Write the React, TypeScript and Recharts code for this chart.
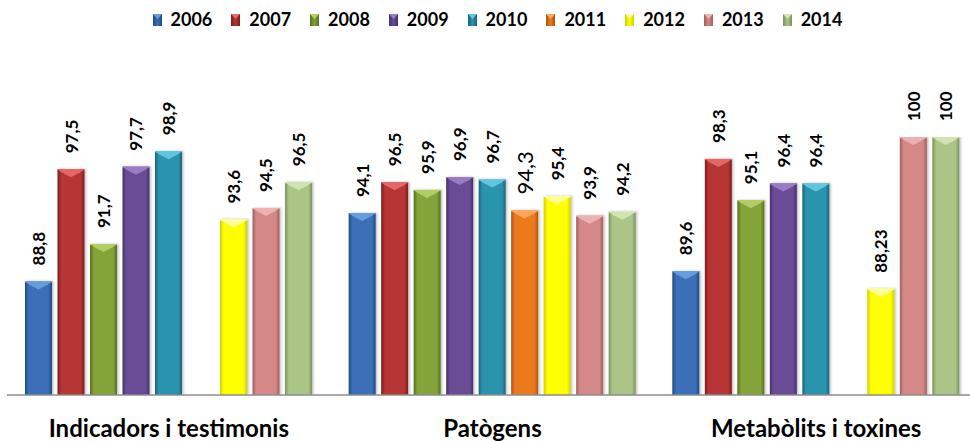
import React from 'react';
import { BarChart, Bar, XAxis, YAxis, Legend, LabelList } from 'recharts';

const categories = ['Indicadors i testimonis', 'Patògens', 'Metabòlits i toxines'];
const years = ['2006', '2007', '2008', '2009', '2010', '2011', '2012', '2013', '2014'];
const v2006 = [88.8, 94.1, 89.6];
const v2007 = [97.5, 96.5, 98.3];
const v2008 = [91.7, 95.9, 95.1];
const v2009 = [97.7, 96.9, 96.4];
const v2010 = [98.9, 96.7, 96.4];
const v2011 = [null, 94.3, null];
const v2012 = [93.6, 95.4, 88.23];
const v2013 = [94.5, 93.9, 100];
const v2014 = [96.5, 94.2, 100];
const series = [v2006, v2007, v2008, v2009, v2010, v2011, v2012, v2013, v2014];

const baseColors = ['#3A70B8', '#B83434', '#84A337', '#6A4C96', '#2C94AF', '#EB7A1F', '#FFFF00', '#D48888', '#AAC585'];
const edgeColors = ['#1F4A80', '#7A1E1E', '#566F20', '#44306A', '#1C6378', '#B0520F', '#D0D000', '#A15E5E', '#7B9260'];
const lightColors = ['#6A9EDD', '#E46A6A', '#B4D068', '#9C80C6', '#64C8E2', '#FFAA5E', '#FFFFA0', '#EDB4B4', '#D2E5B4'];

const data = categories.map((c, i) => {
  const row: any = { name: c };
  years.forEach((y, k) => {
    row[y] = series[k][i];
  });
  return row;
});

const FONT = 'Lato, "Liberation Sans", sans-serif';

const makeShape = (k: number) => (props: any) => {
  const { x, y, width, height } = props;
  if (height == null || height <= 0 || props.value == null) return null;
  const tri = Math.min(8, height);
  return (
    <g filter="url(#shadow)">
      <rect x={x} y={y} width={width} height={height} fill={`url(#grad${k})`} />
      <polygon
        points={`${x},${y} ${x + width},${y} ${x + width - 4},${y + 3} ${x + width / 2},${y + tri} ${x + 4},${y + 3}`}
        fill={lightColors[k]}
        opacity={0.95}
      />
      <line x1={x} y1={y + 0.5} x2={x + width} y2={y + 0.5} stroke={lightColors[k]} strokeWidth={1} />
    </g>
  );
};

const makeLabel = (k: number) => (props: any) => {
  const { x, y, width, value } = props;
  if (value == null) return null;
  const cx = x + width / 2;
  const cy = y - 16;
  const txt = String(value).replace('.', ',');
  const special = years[k] === '2011';
  return (
    <text
      x={cx}
      y={cy}
      transform={`rotate(-90, ${cx}, ${cy})`}
      textAnchor="start"
      dominantBaseline="central"
      fontFamily={FONT}
      fontWeight={special ? 400 : 700}
      fontSize={special ? 22 : 17}
      fill="#000"
    >
      {txt}
    </text>
  );
};

const renderLegend = (props: any) => {
  const payload = props.payload || [];
  return (
    <div
      style={{
        display: 'flex',
        justifyContent: 'center',
        alignItems: 'center',
        height: 30,
        paddingLeft: 10,
        fontFamily: FONT,
        fontWeight: 700,
        fontSize: 18,
        color: '#000',
      }}
    >
      {payload.map((p: any, i: number) => {
        const k = years.indexOf(String(p.value));
        return (
          <div key={i} style={{ display: 'flex', alignItems: 'center', marginRight: i < payload.length - 1 ? 19 : 0 }}>
            <svg width={9} height={12} style={{ marginRight: 9, marginTop: 2 }}>
              <rect x={0} y={0} width={9} height={12} fill={`url(#lg${k})`} />
              <polygon points="0,0 9,0 4.5,5" fill={lightColors[k]} />
            </svg>
            <span>{p.value}</span>
          </div>
        );
      })}
    </div>
  );
};

const renderTick = (props: any) => {
  const { x, y, payload } = props;
  return (
    <text x={x} y={y + 34} textAnchor="middle" fontFamily={FONT} fontWeight={700} fontSize={24} fill="#000">
      {payload.value}
    </text>
  );
};

export default function App() {
  return (
    <div style={{ position: 'fixed', left: 0, top: 0, width: 970, height: 441, overflow: 'hidden', background: '#fff' }}>
      <svg width={0} height={0} style={{ position: 'absolute' }}>
        <defs>
          {years.map((y, k) => (
            <linearGradient key={k} id={`lg${k}`} x1="0" y1="0" x2="1" y2="0">
              <stop offset="0%" stopColor={edgeColors[k]} />
              <stop offset="50%" stopColor={baseColors[k]} />
              <stop offset="100%" stopColor={edgeColors[k]} />
            </linearGradient>
          ))}
        </defs>
      </svg>
      <BarChart
        width={985}
        height={441}
        data={data}
        margin={{ top: 107, right: 7, left: 7, bottom: 0 }}
        barSize={27}
        barGap={5.5}
      >
        <defs>
          {years.map((y, k) => (
            <linearGradient key={k} id={`grad${k}`} x1="0" y1="0" x2="1" y2="0">
              <stop offset="0%" stopColor={edgeColors[k]} />
              <stop offset="14%" stopColor={baseColors[k]} />
              <stop offset="50%" stopColor={baseColors[k]} />
              <stop offset="86%" stopColor={baseColors[k]} />
              <stop offset="100%" stopColor={edgeColors[k]} />
            </linearGradient>
          ))}
          <filter id="shadow" x="-20%" y="-5%" width="140%" height="110%">
            <feDropShadow dx={1.5} dy={0} stdDeviation={1} floodColor="#000" floodOpacity={0.25} />
          </filter>
        </defs>
        <XAxis
          dataKey="name"
          axisLine={{ stroke: '#8C8C8C', strokeWidth: 1.5 }}
          tickLine={false}
          tick={renderTick}
          height={46}
          interval={0}
        />
        <YAxis hide domain={[80, 100]} allowDataOverflow />
        <Legend
          verticalAlign="top"
          align="center"
          content={renderLegend}
          wrapperStyle={{ top: 4, left: 0, width: 985 }}
        />
        {years.map((y, k) => (
          <Bar
            key={y}
            dataKey={y}
            name={y}
            fill={baseColors[k]}
            isAnimationActive={false}
            shape={makeShape(k)}
          >
            <LabelList dataKey={y} content={makeLabel(k)} />
          </Bar>
        ))}
      </BarChart>
    </div>
  );
}
